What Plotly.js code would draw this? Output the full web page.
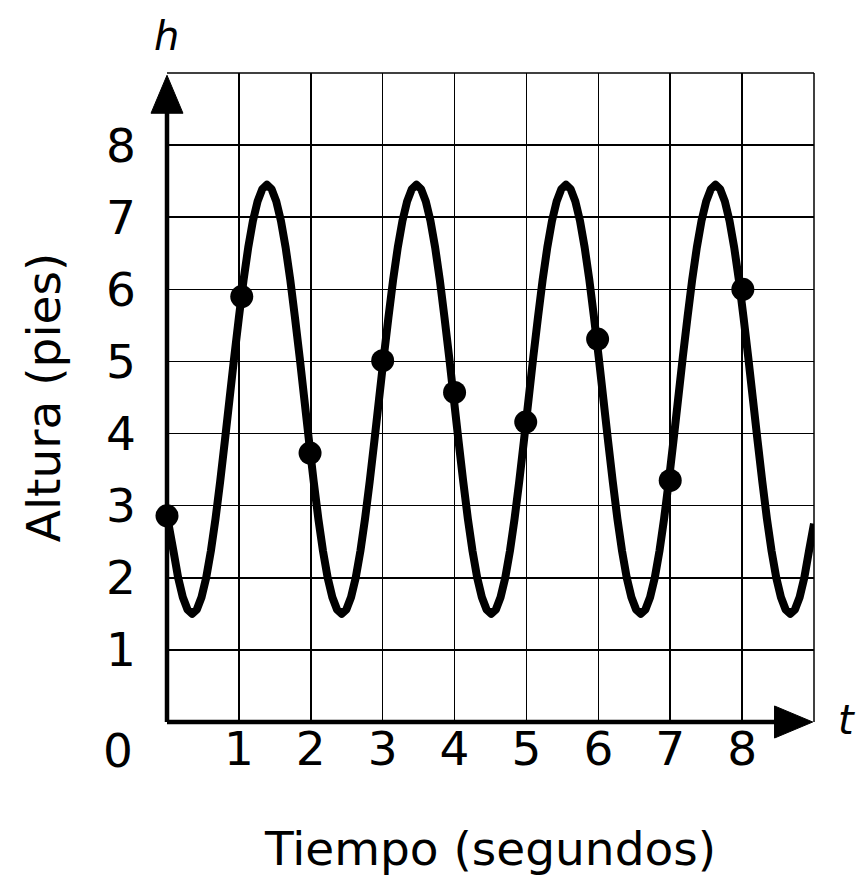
<!DOCTYPE html>
<html>
<head>
<meta charset="utf-8">
<script src="https://cdn.plot.ly/plotly-3.0.1.min.js"></script>
<style>html,body{margin:0;padding:0;background:#fff;}#chart{width:857px;height:880px;}
.scatterlayer .js-line{stroke-linejoin:round !important;stroke-linecap:butt;}</style>
</head>
<body>
<div id="chart"></div>
<script>
// Curve h(t), densely traced along the wave
const curveT = [
  0, 0.09, 0.155, 0.22, 0.285,
  0.35, 0.415, 0.48, 0.545, 0.61, 0.675, 0.74, 0.805, 0.87, 0.935, 1.00, 1.065, 1.13, 1.195, 1.26, 1.325,
  1.39, 1.455, 1.52, 1.585, 1.65, 1.715, 1.78, 1.845, 1.91, 1.975, 2.04, 2.105, 2.17, 2.235, 2.30, 2.365,
  2.43, 2.495, 2.56, 2.625, 2.69, 2.755, 2.82, 2.885, 2.95, 3.015, 3.08, 3.145, 3.21, 3.275, 3.34, 3.405,
  3.47, 3.535, 3.60, 3.665, 3.73, 3.795, 3.86, 3.925, 3.99, 4.055, 4.12, 4.185, 4.25, 4.315, 4.38, 4.445,
  4.51, 4.575, 4.64, 4.705, 4.77, 4.835, 4.90, 4.965, 5.03, 5.095, 5.16, 5.225, 5.29, 5.355, 5.42, 5.485,
  5.55, 5.615, 5.68, 5.745, 5.81, 5.875, 5.94, 6.005, 6.07, 6.135, 6.20, 6.265, 6.33, 6.395, 6.46, 6.525,
  6.59, 6.655, 6.72, 6.785, 6.85, 6.915, 6.98, 7.045, 7.11, 7.175, 7.24, 7.305, 7.37, 7.435, 7.50, 7.565,
  7.63, 7.695, 7.76, 7.825, 7.89, 7.955, 8.02, 8.085, 8.15, 8.215, 8.28, 8.345, 8.41, 8.475, 8.54, 8.605,
  8.67, 8.735, 8.80, 8.865, 8.93, 9.00
];
const curveH = [
  2.86, 2.37, 2.00, 1.73, 1.56,
  1.50, 1.56, 1.73, 2.00, 2.37, 2.82, 3.34, 3.90, 4.48, 5.06, 5.61, 6.13, 6.58, 6.95, 7.22, 7.39,
  7.45, 7.39, 7.22, 6.95, 6.58, 6.13, 5.61, 5.06, 4.48, 3.90, 3.34, 2.82, 2.37, 2.00, 1.73, 1.56,
  1.50, 1.56, 1.73, 2.00, 2.37, 2.82, 3.34, 3.90, 4.48, 5.06, 5.61, 6.13, 6.58, 6.95, 7.22, 7.39,
  7.45, 7.39, 7.22, 6.95, 6.58, 6.13, 5.61, 5.06, 4.48, 3.90, 3.34, 2.82, 2.37, 2.00, 1.73, 1.56,
  1.50, 1.56, 1.73, 2.00, 2.37, 2.82, 3.34, 3.90, 4.48, 5.06, 5.61, 6.13, 6.58, 6.95, 7.22, 7.39,
  7.45, 7.39, 7.22, 6.95, 6.58, 6.13, 5.61, 5.06, 4.48, 3.90, 3.34, 2.82, 2.37, 2.00, 1.73, 1.56,
  1.50, 1.56, 1.73, 2.00, 2.37, 2.82, 3.34, 3.90, 4.48, 5.06, 5.61, 6.13, 6.58, 6.95, 7.22, 7.39,
  7.45, 7.39, 7.22, 6.95, 6.58, 6.13, 5.61, 5.06, 4.48, 3.90, 3.34, 2.82, 2.37, 2.00, 1.73, 1.56,
  1.50, 1.56, 1.73, 2.00, 2.37, 2.75
];
// Measured points (dots)
const dotT = [0, 1.04, 1.99, 3.00, 4.00, 4.99, 5.99, 7.00, 8.01];
const dotH = [2.86, 5.90, 3.73, 5.01, 4.57, 4.16, 5.31, 3.35, 6.00];
// Tick labels
const xTicks = [1, 2, 3, 4, 5, 6, 7, 8];
const yTicks = [1, 2, 3, 4, 5, 6, 7, 8];
const xTickText = ['1', '2', '3', '4', '5', '6', '7', '8'];
const yTickText = ['1', '2', '3', '4', '5', '6', '7', '8'];

const FONT = 'DejaVu Sans, Verdana, sans-serif';

const traces = [
  {x: curveT, y: curveH, mode: 'lines', type: 'scatter',
   line: {color: '#000', width: 8, shape: 'linear', simplify: false}, hoverinfo: 'skip'},
  {x: dotT, y: dotH, mode: 'markers', type: 'scatter',
   marker: {color: '#000', size: 23}, cliponaxis: false}
];

const layout = {
  width: 857, height: 880,
  margin: {l: 167, r: 43, t: 73, b: 158},
  paper_bgcolor: '#fff', plot_bgcolor: '#fff',
  showlegend: false,
  font: {family: FONT, size: 47, color: '#000'},
  xaxis: {
    range: [0, 9], tickvals: xTicks, ticktext: xTickText,
    showgrid: true, gridcolor: '#000', gridwidth: 1.5,
    zeroline: false, showline: false, ticks: '',
    ticklabelstandoff: -5,
    tickfont: {family: FONT, size: 47, color: '#000'},
    title: {text: 'Tiempo (segundos)', font: {family: FONT, size: 47, color: '#000'}, standoff: 57},
    fixedrange: true
  },
  yaxis: {
    range: [0, 9], tickvals: yTicks, ticktext: yTickText,
    showgrid: true, gridcolor: '#000', gridwidth: 1.5,
    zeroline: false, showline: false, ticks: '',
    ticklabelstandoff: 30,
    tickfont: {family: FONT, size: 47, color: '#000'},
    title: {text: 'Altura (pies)', font: {family: FONT, size: 47, color: '#000'}, standoff: 30},
    fixedrange: true
  },
  shapes: [
    {type: 'line', xref: 'paper', yref: 'paper', x0: 0, x1: 1, y0: 1, y1: 1, line: {color: '#000', width: 1.5}},
    {type: 'line', xref: 'paper', yref: 'paper', x0: 1, x1: 1, y0: 0, y1: 1, line: {color: '#000', width: 1.5}},
    {type: 'line', xref: 'paper', yref: 'paper', x0: 0, x1: 0, y0: 0, y1: 0.95, line: {color: '#000', width: 4.5}},
    {type: 'line', xref: 'paper', yref: 'paper', x0: 0, x1: 0.95, y0: 0, y1: 0, line: {color: '#000', width: 4.5}},
    {type: 'path', xref: 'paper', yref: 'paper', path: 'M 0 0.9965 L -0.0247 0.938 L 0.0247 0.938 Z', fillcolor: '#000', line: {color: '#000', width: 1}},
    {type: 'path', xref: 'paper', yref: 'paper', path: 'M 0.998 0 L 0.939 0.0247 L 0.939 -0.0247 Z', fillcolor: '#000', line: {color: '#000', width: 1}}
  ],
  annotations: [
    {xref: 'paper', yref: 'paper', x: 0, y: 0, xshift: -49, yshift: -28, text: '0', showarrow: false,
     font: {family: FONT, size: 47, color: '#000'}, xanchor: 'center', yanchor: 'middle'},
    {xref: 'paper', yref: 'paper', x: 0, y: 1, xshift: -1, yshift: 37, text: '<i>h</i>', showarrow: false,
     font: {family: FONT, size: 40, color: '#000'}, xanchor: 'center', yanchor: 'middle'},
    {xref: 'paper', yref: 'paper', x: 1, y: 0, xshift: 32, yshift: 2, text: '<i>t</i>', showarrow: false,
     font: {family: FONT, size: 40, color: '#000'}, xanchor: 'center', yanchor: 'middle'}
  ]
};

Plotly.newPlot('chart', traces, layout, {displayModeBar: false, staticPlot: true});
</script>
</body>
</html>
